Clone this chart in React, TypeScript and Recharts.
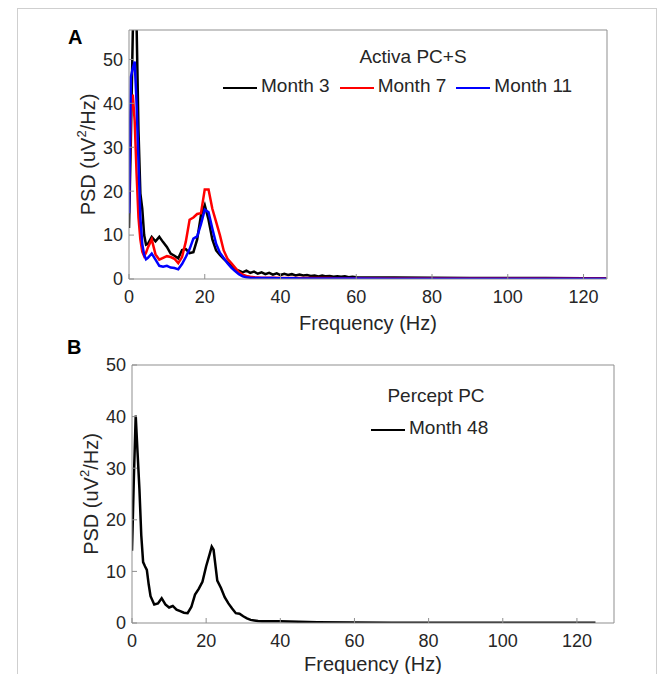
import React from "react";
import { LineChart, Line, XAxis, YAxis, Legend } from "recharts";

const FONT = '"Liberation Sans", Arial, Helvetica, sans-serif';
const INK = "#262626";
const BOX = "#8f8f8f";

// Panel A: Activa PC+S
const freqA = [
  0, 0.5, 1, 1.5, 2, 2.5, 3, 3.5, 4, 4.5,
  5, 6, 7, 8, 9, 10, 11, 12, 13, 14, 15, 16, 17, 18, 19, 20, 21, 22, 23, 24, 25, 26, 27, 28, 29, 30,
  31, 32, 33, 34, 35, 36, 37, 38, 39, 40, 41, 42, 43, 44, 45, 46, 47, 48, 49, 50, 51, 52, 53, 54, 55, 56, 57, 58, 59, 60,
  70, 80, 90, 100, 110, 120, 126,
];
const month3 = [
  11.6, 32, 56, 68, 58, 34, 19.5, 16, 10, 7.8,
  8, 9.6, 8.6, 9.6, 8.4, 7.3, 5.8, 5.3, 4.7, 6.6, 6.8, 5.9, 6.1, 9, 14.5, 16.8, 13.5, 9, 6.5, 5.5, 4.6, 3.8, 3, 2.2, 1.9, 1.5,
  1.9, 1.4, 1.7, 1.2, 1.5, 1.1, 1.4, 1.0, 1.3, 0.9, 1.2, 0.9, 1.1, 0.8, 1.0, 0.8, 0.9, 0.7, 0.8, 0.6, 0.8, 0.6, 0.7, 0.5, 0.6, 0.5, 0.6, 0.4, 0.5, 0.4,
  0.35, 0.3, 0.25, 0.2, 0.2, 0.15, 0.15,
];
const month7 = [
  18, 38, 42, 36, 24, 14, 9, 6.2, 5.2, 6,
  7.2, 9, 5.6, 4.4, 4.8, 5.2, 5, 4.6, 3.6, 5, 8.5, 13.5, 14, 14.8, 15, 20.4, 20.4, 16, 13, 10, 6.5, 4.6, 3.6, 2.6, 1.6, 1,
  0.7, 0.5, 0.4, 0.35, 0.3, 0.3, 0.3, 0.3, 0.3, 0.25, 0.25, 0.25, 0.25, 0.25, 0.2, 0.2, 0.2, 0.2, 0.2, 0.2, 0.2, 0.2, 0.2, 0.15, 0.15, 0.15, 0.15, 0.15, 0.15, 0.15,
  0.1, 0.1, 0.1, 0.1, 0.1, 0.1, 0.1,
];
const month11 = [
  15, 46, 48, 49.5, 40, 27, 14, 8, 5.5, 4.5,
  4.8, 5.8, 4.4, 3, 2.8, 3, 2.6, 2.5, 2.2, 3.4, 5, 6.8, 9.2, 9.7, 12.5, 15.8, 15.2, 11.5, 8, 6, 4.8, 3.6, 2.6, 1.8, 1.1, 0.6,
  0.4, 0.3, 0.25, 0.2, 0.2, 0.2, 0.2, 0.2, 0.15, 0.15, 0.15, 0.15, 0.15, 0.15, 0.1, 0.1, 0.1, 0.1, 0.1, 0.1, 0.1, 0.1, 0.1, 0.1, 0.1, 0.1, 0.1, 0.1, 0.1, 0.1,
  0.08, 0.08, 0.08, 0.08, 0.08, 0.08, 0.08,
];
const seriesOrderA = ["Month 3", "Month 7", "Month 11"];

// Panel B: Percept PC
const freqB = [
  0, 0.5, 1, 1.5, 2, 2.5, 3, 3.5, 4, 4.5,
  5, 6, 7, 8, 9, 10, 11, 12, 13, 14, 15, 16, 17, 18, 19, 20, 21, 21.5,
  22, 23, 24, 25, 26, 27, 28, 29, 30, 31, 32, 33, 34, 35,
  40, 45, 50, 60, 70, 80, 90, 100, 110, 120, 125,
];
const month48 = [
  14, 28, 40.2, 33, 26, 17, 11.8, 11, 10.3, 7.5,
  5.2, 3.6, 3.8, 4.8, 3.6, 3, 3.3, 2.6, 2.3, 2, 1.9, 3.1, 5.5, 6.6, 8, 11, 13.5, 14.8,
  14.2, 8.2, 6.8, 5, 3.8, 2.8, 1.9, 1.8, 1.3, 0.9, 0.6, 0.5, 0.4, 0.35,
  0.35, 0.25, 0.15, 0.1, 0.05, 0.05, 0.05, 0.05, 0.05, 0.05, 0.05,
];

const xTicks = [0, 20, 40, 60, 80, 100, 120];
const yTicks = [0, 10, 20, 30, 40, 50];

const rowsA = freqA.map((f, i) => ({ f, m3: month3[i], m7: month7[i], m11: month11[i] }));
const rowsB = freqB.map((f, i) => ({ f, m48: month48[i] }));

const tickStyle = { fill: INK, fontSize: 18, fontFamily: FONT };

function PsdLabel({ viewBox }: any) {
  const x = viewBox.x + viewBox.width - 41;
  const y = viewBox.y + viewBox.height / 2;
  return (
    <text
      x={x}
      y={y}
      transform={`rotate(-90, ${x}, ${y})`}
      textAnchor="middle"
      dominantBaseline="central"
      fill={INK}
      fontSize={20}
      fontFamily={FONT}
    >
      PSD (uV<tspan dy={-7} fontSize={13}>2</tspan>
      <tspan dy={7}>/Hz)</tspan>
    </text>
  );
}

function LegendRow({ payload, order }: any) {
  const items = [...(payload ?? [])].sort(
    (a: any, b: any) => order.indexOf(a.value) - order.indexOf(b.value)
  );
  return (
    <div style={{ display: "flex", whiteSpace: "nowrap", fontFamily: FONT, fontSize: 19, lineHeight: "22px", color: INK }}>
      {items.map((p: any) => (
        <div key={p.value} style={{ display: "flex", alignItems: "center", marginRight: 10 }}>
          <span style={{ display: "inline-block", width: 34, height: 2.5, background: p.color, marginRight: 4, marginTop: 4 }} />
          <span>{p.value}</span>
        </div>
      ))}
    </div>
  );
}

export default function App() {
  return (
    <div style={{ position: "absolute", left: 0, top: 0, width: 671, height: 674, background: "#fff", overflow: "hidden" }}>
      <div style={{ position: "absolute", left: 17, top: 8, width: 638, height: 700, border: "1px solid #cfcfcf" }} />

      <div style={{ position: "absolute", left: 0, top: 0 }}>
        <LineChart width={671} height={340} data={rowsA} margin={{ top: 29, right: 63, left: 69, bottom: 0 }}>
          <XAxis
            dataKey="f"
            type="number"
            domain={[0, 126.2]}
            ticks={xTicks}
            allowDataOverflow
            tickSize={-5}
            tickMargin={16}
            tick={tickStyle}
            stroke={BOX}
            height={61}
            label={{ value: "Frequency (Hz)", position: "insideBottom", offset: 10, fill: INK, fontSize: 20, fontFamily: FONT }}
          />
          <XAxis xAxisId="top" orientation="top" dataKey="f" type="number" domain={[0, 126.2]} ticks={xTicks} allowDataOverflow tick={false} tickSize={-5} stroke={BOX} height={1} />
          <YAxis
            type="number"
            domain={[0, 56.7]}
            ticks={yTicks}
            allowDataOverflow
            tickSize={-5}
            tickMargin={11}
            width={60}
            stroke={BOX}
            tick={tickStyle}
            label={(p: any) => <PsdLabel {...p} />}
          />
          <YAxis yAxisId="right" orientation="right" type="number" domain={[0, 56.7]} ticks={yTicks} allowDataOverflow tick={false} tickSize={-5} stroke={BOX} width={1} />
          <Legend
            layout="horizontal"
            verticalAlign="middle"
            align="center"
            content={(p: any) => <LegendRow {...p} order={seriesOrderA} />}
            wrapperStyle={{ left: 223, top: 75, width: 420 }}
          />
          <Line dataKey="m3" name="Month 3" stroke="#000000" strokeWidth={2.5} dot={false} isAnimationActive={false} />
          <Line dataKey="m7" name="Month 7" stroke="#ff0000" strokeWidth={2.5} dot={false} isAnimationActive={false} />
          <Line dataKey="m11" name="Month 11" stroke="#0000ff" strokeWidth={2.5} dot={false} isAnimationActive={false} />
        </LineChart>
      </div>

      <div style={{ position: "absolute", left: 0, top: 336 }}>
        <LineChart width={671} height={338} data={rowsB} margin={{ top: 28, right: 56, left: 72, bottom: 0 }}>
          <XAxis
            dataKey="f"
            type="number"
            domain={[0, 130]}
            ticks={xTicks}
            allowDataOverflow
            tickSize={-5}
            tickMargin={16}
            tick={tickStyle}
            stroke={BOX}
            height={51}
            label={{ value: "Frequency (Hz)", position: "insideBottom", offset: 3, fill: INK, fontSize: 20, fontFamily: FONT }}
          />
          <XAxis xAxisId="top" orientation="top" dataKey="f" type="number" domain={[0, 130]} ticks={xTicks} allowDataOverflow tick={false} tickSize={-5} stroke={BOX} height={1} />
          <YAxis
            type="number"
            domain={[0, 50]}
            ticks={yTicks}
            allowDataOverflow
            tickSize={-5}
            tickMargin={11}
            width={60}
            stroke={BOX}
            tick={tickStyle}
            label={(p: any) => <PsdLabel {...p} />}
          />
          <YAxis yAxisId="right" orientation="right" type="number" domain={[0, 50]} ticks={yTicks} allowDataOverflow tick={false} tickSize={-5} stroke={BOX} width={1} />
          <Legend
            layout="horizontal"
            verticalAlign="middle"
            align="center"
            content={(p: any) => <LegendRow {...p} order={["Month 48"]} />}
            wrapperStyle={{ left: 371, top: 81, width: 200 }}
          />
          <Line dataKey="m48" name="Month 48" stroke="#000000" strokeWidth={2.5} dot={false} isAnimationActive={false} />
        </LineChart>
      </div>

      <svg width={671} height={674} style={{ position: "absolute", left: 0, top: 0, pointerEvents: "none" }}>
        <text x={68} y={44} fontSize={20} fontWeight="bold" fontFamily={FONT} fill="#000">A</text>
        <text x={67} y={354} fontSize={20} fontWeight="bold" fontFamily={FONT} fill="#000">B</text>
        <text x={413} y={62.5} fontSize={19} textAnchor="middle" fontFamily={FONT} fill={INK}>Activa PC+S</text>
        <text x={436} y={402} fontSize={19} textAnchor="middle" fontFamily={FONT} fill={INK}>Percept PC</text>
      </svg>
    </div>
  );
}
